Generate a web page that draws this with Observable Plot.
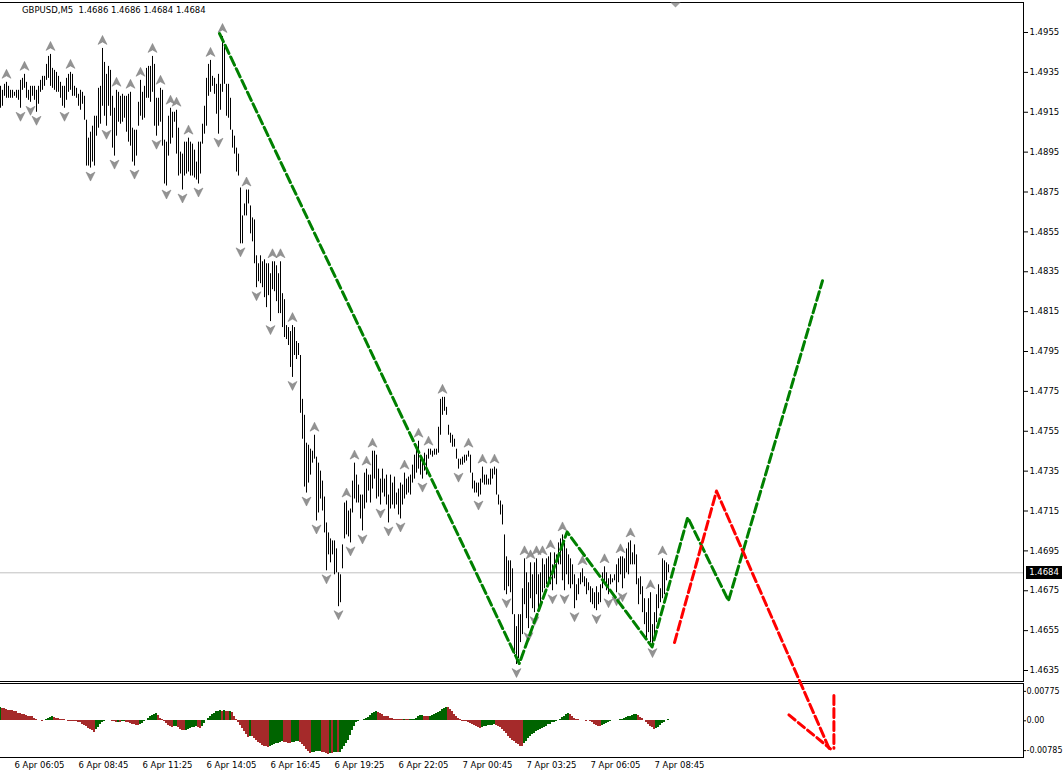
<!DOCTYPE html>
<html>
<head>
<meta charset="utf-8">
<script src="https://cdn.jsdelivr.net/npm/d3@7"></script>
<script src="https://cdn.jsdelivr.net/npm/@observablehq/plot@0.6"></script>
<style>
  html, body { margin: 0; padding: 0; background: #fff; }
  #chart { position: relative; width: 1064px; height: 775px; overflow: hidden; background: #fff; font-family: "DejaVu Sans", sans-serif; }
  #chart svg { position: absolute; left: 0; }
  .box { position: absolute; left: 0; box-sizing: border-box; border: 1px solid #000; border-left: none; pointer-events: none; }
  .title { position: absolute; left: 22px; top: 5px; font-size: 8.5px; white-space: pre; color: #000; z-index: 3; }
  .bidlbl { position: absolute; left: 1026px; width: 36px; height: 13px; background: #000; color: #fff; font-size: 8.5px; line-height: 13px; text-align: center; z-index: 3; }
</style>
</head>
<body>
<div id="chart"></div>
<script>
// ---------- data (prices in pips above 1.4000, i.e. 928 -> 1.4928) ----------
const symbolName = "GBPUSD,M5";
const quote = [1.4686, 1.4686, 1.4684, 1.4684];
const bidPrice = 1.4684;

const highPips = [
  928,926,929,930,928,926,926,925,926,926,
  931,932,934,930,926,928,928,928,926,928,
  931,933,933,939,943,944,937,936,935,933,
  930,928,928,932,934,935,934,928,927,924,
  926,925,923,911,902,905,908,913,913,927,
  928,947,940,934,938,936,923,917,926,925,
  923,924,923,923,924,925,907,906,906,920,
  931,925,928,937,938,938,943,939,922,922,
  927,926,901,900,913,917,915,915,916,907,
  895,894,900,900,902,900,899,896,890,900,
  900,909,918,932,939,941,933,932,929,934,
  929,953,949,929,929,922,906,903,897,894,
  877,863,869,876,876,868,862,861,843,839,
  843,840,841,839,839,834,840,840,838,834,
  840,824,821,808,807,805,808,807,800,799,
  793,771,763,749,748,746,745,753,742,739,
  735,730,722,709,704,701,700,700,696,684,
  683,698,719,720,715,716,730,739,733,728,
  723,723,734,736,733,733,745,745,743,736,
  731,736,731,733,723,733,729,732,724,726,
  729,728,734,731,732,733,738,743,748,750,
  741,739,744,743,746,746,745,746,746,757,
  771,772,772,767,758,754,753,751,746,741,
  741,742,743,743,745,743,734,730,729,729,
  731,737,733,733,731,736,736,737,736,723,
  720,718,703,692,690,690,686,663,657,663,
  663,676,691,684,679,689,683,689,691,683,
  684,691,688,691,692,694,688,694,693,699,
  701,703,699,696,693,691,688,683,678,681,
  684,686,682,681,679,677,676,674,677,674,
  678,684,687,684,681,683,681,683,688,691,
  692,692,691,696,699,700,694,698,693,681,
  682,677,671,664,671,674,658,664,673,678,
  676,691,690,689,688
];
const lowPips = [
  917,918,923,922,922,922,922,923,922,921,
  917,926,927,922,921,920,923,921,915,919,
  925,926,928,931,932,928,927,926,925,925,
  922,918,917,921,925,926,923,923,922,918,
  916,919,911,888,888,887,890,888,903,907,
  909,918,913,908,918,913,897,893,903,910,
  909,910,912,905,900,898,890,888,893,908,
  913,911,912,922,922,920,925,908,903,908,
  910,898,879,878,893,899,902,910,894,883,
  884,876,883,884,885,883,883,882,881,879,
  884,899,904,908,923,925,928,924,914,904,
  916,925,929,913,912,906,897,894,885,883,
  849,849,863,863,869,854,850,839,827,830,
  829,827,822,817,823,810,826,825,820,814,
  814,807,802,801,798,787,782,793,791,793,
  764,751,727,724,729,733,739,741,710,714,
  721,715,704,685,693,689,693,683,684,667,
  669,686,701,703,702,699,714,721,719,719,
  711,705,716,719,725,719,726,731,721,722,
  718,724,722,718,709,716,718,716,718,713,
  711,718,721,723,724,723,729,731,734,736,
  733,731,735,733,741,743,742,743,743,744,
  753,763,765,763,753,749,747,747,741,736,
  738,738,739,740,742,734,726,724,724,722,
  723,729,728,728,728,728,731,733,723,718,
  713,708,675,673,677,674,663,643,638,641,
  649,653,668,661,656,671,666,664,673,664,
  668,674,676,678,680,678,675,681,678,688,
  688,680,675,683,678,676,678,666,670,673,
  678,679,677,673,675,669,668,666,665,668,
  669,676,678,675,673,678,679,680,674,679,
  683,676,681,684,683,688,688,688,678,668,
  673,664,658,651,654,649,648,651,659,666,
  669,671,673,680,684
];

// Awesome-oscillator style histogram, in pips (0.0001)
const aoPips = [
  33,32,30,28,27,27,26, 24,22,19, 17,15,14,13, 11,10,9, 6,3, 0,-1,-2,-1,
  1,4,7,10, 8,6,4,3,2,1, -1,-2,-3,-3,-4,-4,
  -5,-7,-10,-13,-17,-21,-24,-27,-31, -25,-19,-12,-6,-2,0, -1,-1,-2,
  -4,-7,-5,-6,-4,-3,-5, -7,-9,-11,-12,-13,-13,-12, -8,-4,-1,
  4,9,13,16,17, 12,6,1,
  -4,-9,-14,-17,-18,-16,-15,-19,-23,-26,-27,-26, -23,-21,-19,-18,-17, -19,-21,
  -15,-8,0,6,11,15, 19,22,24,25,23,25,24,22,24,20, 10,3,
  -6,-14,-22,-30,-38,-44, -42,-43, -48,-53,-58,-62,-66,-69,-70,-71,
  -68,-66,-64,-62,-60,-58,-57, -58,-59,-60,-61,-59, -58,-57,-56,-58,
  -63,-70,-77,-83,-87, -86,-84,-83,-82,-81, -84,-86,-88,-89,-87,-88,
  -85,-84,-86,-84, -78,-70,-62,-52, -40,-28,-16,-6,-2, -1,0,1,
  4,8,13,17,20,22, 20,17,14,11,10,9, 5,4,3,3,2,2,1,2,1,1,2,2,3,
  6,9,12,13, 11,10,9, 10,12,14,17,20,24,28,32,35, 33,28,22,16,10,5,1,
  -2,-3,-4,-5,-8,-11,-14,-17,-20,-22, -19,-17,-15,-14,-13,-13,-12,-13,
  -16,-20,-25,-30,-36,-42,-47,-52,-57,-61,-65,-68,-70,
  -62,-55,-48,-43,-38,-34,-30,-27,-24,-21,-18,-15,-12,-10,-7,-5,-3,-1,
  3,7,11,15,17, 14,10,6,3,1, 0,-1,-1,-2,-1, -4,-7,-10,-13,-15,-16,
  -14,-11,-8,-5,-3,-1, 0,-1,0,1, 3,5,7,9,11,13,14,15, 12,8,4,0,
  -5,-10,-15,-20,-25, -22,-18,-13,-9,-5,-1,3
];

const timeTickBars = [7, 39, 71, 103, 135, 167, 199, 231, 263, 295, 327];
const timeTickLabels = ["6 Apr 06:05","6 Apr 08:45","6 Apr 11:25","6 Apr 14:05","6 Apr 16:45",
  "6 Apr 19:25","6 Apr 22:05","7 Apr 00:45","7 Apr 03:25","7 Apr 06:05","7 Apr 08:45"];
const priceTicks = [1.4955,1.4935,1.4915,1.4895,1.4875,1.4855,1.4835,1.4815,1.4795,
  1.4775,1.4755,1.4735,1.4715,1.4695,1.4675,1.4655,1.4635];
const aoTicks = [0.00775, 0, -0.00785];
const aoTickLabels = ["0.00775", "0.00", "-0.00785"];

// hand-drawn dashed paths (bar index, price)
const greenZigzag = [
  {bar: 109.5, price: 1.49545}, {bar: 259.4, price: 1.46385}, {bar: 283.3, price: 1.47045},
  {bar: 325.8, price: 1.46468}, {bar: 343.6, price: 1.47118}, {bar: 364.0, price: 1.46700},
  {bar: 411.0, price: 1.48305}
];
const redForecast = [{bar: 337.0, price: 1.46490}, {bar: 358.0, price: 1.47250}, {bar: 414.5, price: 1.45955}];
const redArrowSide = [{bar: 394.2, price: 1.46127}, {bar: 415.0, price: 1.45957}];
const redArrowStem = [{bar: 416.7, price: 1.46224}, {bar: 416.7, price: 1.45960}];
const chartShiftBar = 337.5;

// ---------- build ----------
const bars = highPips.map((h, i) => ({k: i, hi: 1.4 + h / 10000, lo: 1.4 + lowPips[i] / 10000}));
const n = bars.length;
const upFr = [], dnFr = [];
for (let i = 2; i < n - 2; i++) {
  const h = highPips, l = lowPips;
  if (h[i] > h[i-1] && h[i] > h[i-2] && h[i] >= h[i+1] && h[i] >= h[i+2]) upFr.push(bars[i]);
  if (l[i] < l[i-1] && l[i] < l[i-2] && l[i] <= l[i+1] && l[i] <= l[i+2]) dnFr.push(bars[i]);
}
let state = true;
const ao = aoPips.map((v, i) => {
  if (i > 0) { if (v > aoPips[i-1]) state = true; else if (v < aoPips[i-1]) state = false; }
  return {k: i, v: v / 10000, up: state};
});

const upArrow = {draw(c) { c.moveTo(0,-5); c.lineTo(4.5,4); c.lineTo(0,1.5); c.lineTo(-4.5,4); c.closePath(); }};
const downArrow = {draw(c) { c.moveTo(0,5); c.lineTo(4.5,-4); c.lineTo(0,-1.5); c.lineTo(-4.5,-4); c.closePath(); }};
const shiftTri = {draw(c) { c.moveTo(-5,0); c.lineTo(5,0); c.lineTo(0,5); c.closePath(); }};

const W = 1064;
const xDomain = [0, 511.5];
const font = "DejaVu Sans, sans-serif";
const yMain = [1.4629483, 1.4970047];

const main = Plot.plot({
  width: W, height: 683,
  marginTop: 2, marginBottom: 2, marginLeft: 0, marginRight: 41,
  x: {domain: xDomain, axis: null, label: null},
  y: {domain: yMain, axis: null, label: null},
  style: {background: "transparent", overflow: "visible", fontFamily: font, top: "0px", zIndex: 2},
  marks: [
    Plot.ruleY([bidPrice], {stroke: "#c0c0c0"}),
    Plot.ruleX(bars, {x: "k", y1: "lo", y2: "hi", stroke: "#000", strokeWidth: 1}),
    Plot.dot(upFr, {x: "k", y: "hi", dy: -8, symbol: upArrow, r: 4, fill: "#939393", stroke: "#7a7a7a", strokeWidth: 0.5}),
    Plot.dot(dnFr, {x: "k", y: "lo", dy: 8, symbol: downArrow, r: 4, fill: "#939393", stroke: "#7a7a7a", strokeWidth: 0.5}),
    Plot.line(greenZigzag, {x: "bar", y: "price", stroke: "#008000", strokeWidth: 3, strokeDasharray: "9,4"}),
    Plot.line(redForecast, {x: "bar", y: "price", stroke: "#ff0000", strokeWidth: 3, strokeDasharray: "9,4"}),
    Plot.line(redArrowSide, {x: "bar", y: "price", stroke: "#ff0000", strokeWidth: 3, strokeDasharray: "8,4"}),
    Plot.line(redArrowStem, {x: "bar", y: "price", stroke: "#ff0000", strokeWidth: 3, strokeDasharray: "9,4"}),
    Plot.dot([chartShiftBar], {x: d => d, y: yMain[1], symbol: shiftTri, r: 4, fill: "#a0a0a0", stroke: null}),
    Plot.axisY({ticks: priceTicks, anchor: "right", tickSize: 4, tickPadding: 2, label: null,
      tickFormat: d => d.toFixed(4), fontSize: 8.5})
  ]
});

const sub = Plot.plot({
  width: W, height: 92,
  marginTop: 0, marginBottom: 18, marginLeft: 0, marginRight: 41,
  x: {domain: xDomain, axis: null, label: null},
  y: {domain: [-0.009658, 0.009816], axis: null, label: null},
  style: {background: "transparent", overflow: "visible", fontFamily: font, top: "683px", zIndex: 1},
  marks: [
    Plot.rect(ao.filter(d => d.up), {x1: d => d.k - 0.5, x2: d => d.k + 0.5, y1: 0, y2: "v", fill: "#006400",
      inset: 0, dx: -0.5, dy: -0.5, shapeRendering: "crispEdges"}),
    Plot.rect(ao.filter(d => !d.up), {x1: d => d.k - 0.5, x2: d => d.k + 0.5, y1: 0, y2: "v", fill: "#a52a2a",
      inset: 0, dx: -0.5, dy: -0.5, shapeRendering: "crispEdges"}),
    Plot.axisY({ticks: aoTicks, anchor: "right", tickSize: 2, tickPadding: 1, label: null,
      tickFormat: d => aoTickLabels[aoTicks.indexOf(d)], fontSize: 8}),
    Plot.axisX({ticks: timeTickBars, anchor: "bottom", tickSize: 0, tickPadding: 4, textAnchor: "start", label: null,
      tickFormat: d => timeTickLabels[timeTickBars.indexOf(d)], fontSize: 8.5})
  ]
});

const chart = document.getElementById("chart");
const mainBox = document.createElement("div");
mainBox.className = "box"; mainBox.style.top = "2px"; mainBox.style.height = "680px"; mainBox.style.width = "1024px";
const subBox = document.createElement("div");
subBox.className = "box"; subBox.style.top = "683px"; subBox.style.height = "75px"; subBox.style.width = "1024px";
chart.appendChild(sub);
chart.appendChild(main);
chart.appendChild(mainBox);
chart.appendChild(subBox);

const title = document.createElement("div");
title.className = "title";
title.textContent = symbolName + "  " + quote.map(q => q.toFixed(4)).join(" ");
chart.appendChild(title);

const bidY = main.scale("y").apply(bidPrice);
const lbl = document.createElement("div");
lbl.className = "bidlbl";
lbl.style.top = (bidY - 6.5) + "px";
lbl.textContent = bidPrice.toFixed(4);
chart.appendChild(lbl);
</script>
</body>
</html>
